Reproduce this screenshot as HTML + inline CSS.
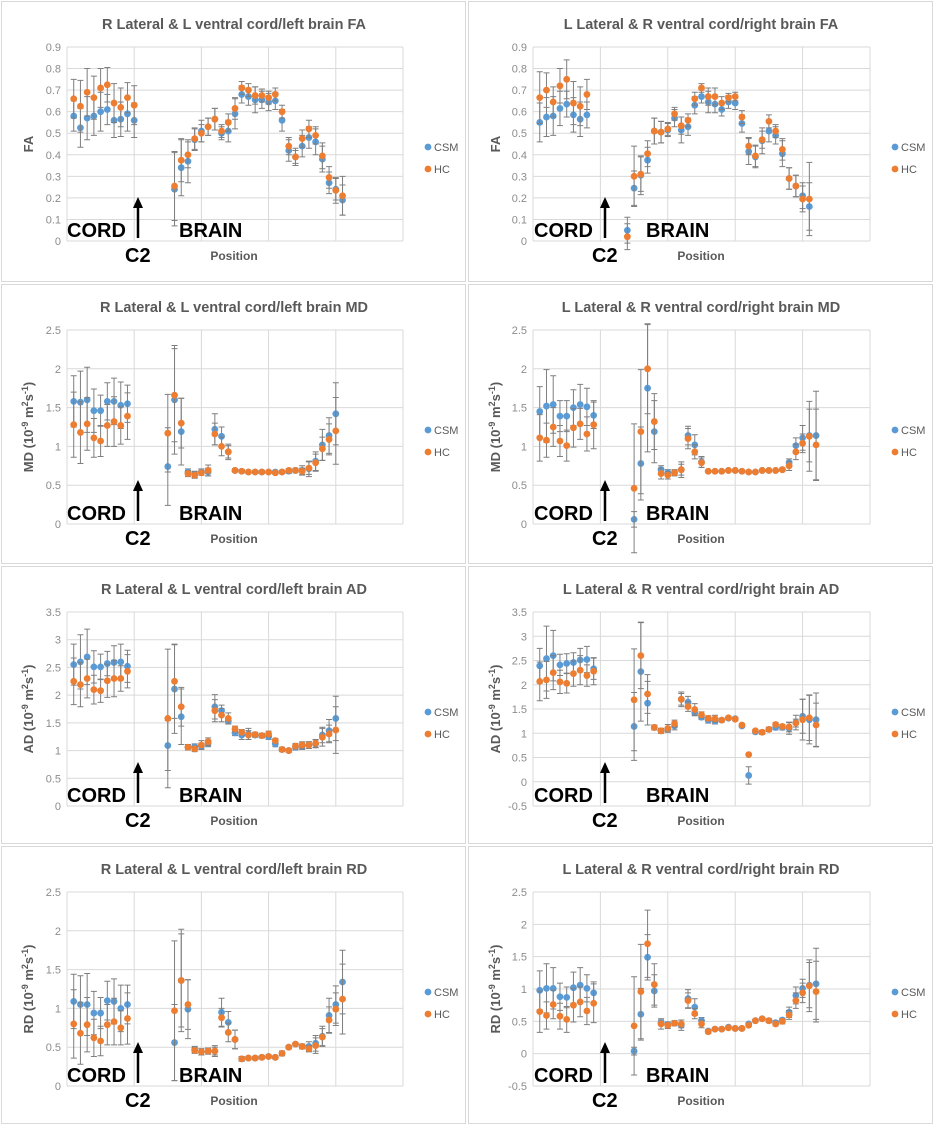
<!DOCTYPE html>
<html><head><meta charset="utf-8"><style>
html,body{margin:0;padding:0;background:#fff;}
svg{display:block;font-family:"Liberation Sans",sans-serif;}
</style></head><body>
<svg id="fig" width="934" height="1125" viewBox="0 0 934 1125"></svg>
<script>
// ---- Data (one set of arrays per panel) ----
const titles = ["R Lateral & L ventral  cord/left brain  FA","L Lateral & R ventral  cord/right brain FA","R Lateral & L ventral  cord/left brain  MD","L Lateral & R ventral cord/right brain MD","R Lateral & L ventral  cord/left brain  AD","L Lateral & R ventral  cord/right brain AD","R Lateral & L ventral  cord/left brain RD","L Lateral & R ventral  cord/right brain RD"];
const yLabels = ["FA","FA","MD","MD","AD","AD","RD","RD"];
const yMins = [0,0,0,0,0,-0.5,0,-0.5];
const yMaxs = [0.9,0.9,2.5,2.5,3.5,3.5,2.5,2.5];
const ySteps = [0.1,0.1,0.5,0.5,0.5,0.5,0.5,0.5];
const brainStarts = [16,14,15,15,15,15,16,15];
const legendSeries = ["CSM","HC"];

const cordCSM = [
 [.58,.525,.57,.58,.60,.61,.56,.565,.59,.56],
 [.55,.575,.58,.615,.635,.585,.565,.585],
 [1.58,1.57,1.60,1.46,1.46,1.58,1.58,1.53,1.55],
 [1.45,1.52,1.54,1.39,1.39,1.50,1.54,1.51,1.40],
 [2.55,2.60,2.69,2.51,2.51,2.57,2.59,2.60,2.52],
 [2.39,2.54,2.60,2.41,2.44,2.46,2.51,2.52,2.33],
 [1.09,1.05,1.05,0.94,0.94,1.10,1.09,1.00,1.05],
 [.98,1.01,1.01,.88,.87,1.02,1.06,1.01,.94]];
const cordHC = [
 [.66,.625,.69,.665,.71,.725,.64,.62,.665,.63],
 [.665,.70,.645,.72,.75,.64,.625,.68],
 [1.28,1.18,1.29,1.11,1.07,1.27,1.32,1.27,1.39],
 [1.11,1.08,1.25,1.07,1.01,1.24,1.29,1.16,1.28],
 [2.25,2.19,2.30,2.10,2.08,2.26,2.30,2.30,2.43],
 [2.07,2.10,2.25,2.06,2.03,2.23,2.30,2.19,2.28],
 [0.80,0.68,0.79,0.62,0.58,0.79,0.83,0.75,0.87],
 [.65,.59,.76,.58,.53,.75,.80,.66,.78]];
const cordErrCSM = [
 [.07,.09,.1,.09,.09,.07,.08,.08,.08,.08],
 [.09,.09,.09,.08,.06,.08,.08,.06],
 [.33,.4,.42,.28,.2,.24,.3,.3,.24],
 [.32,.47,.37,.2,.2,.23,.26,.24,.17],
 [.37,.49,.5,.29,.23,.22,.3,.32,.29],
 [.36,.67,.52,.22,.2,.2,.24,.27,.22],
 [.35,.37,.4,.28,.2,.25,.29,.3,.25],
 [.3,.38,.32,.21,.16,.24,.27,.21,.17]];
const cordErrHC = [
 [.09,.12,.11,.1,.09,.08,.09,.09,.07,.09],
 [.12,.08,.07,.08,.09,.1,.09,.07],
 [.42,.4,.34,.25,.2,.27,.32,.24,.3],
 [.3,.22,.25,.2,.2,.25,.2,.22,.31],
 [.42,.4,.35,.26,.21,.3,.33,.23,.3],
 [.4,.38,.35,.24,.2,.26,.3,.22,.28],
 [.44,.4,.35,.24,.19,.26,.3,.22,.33],
 [.32,.21,.22,.2,.2,.26,.23,.21,.3]];

const brainCSM = [
 [.24,.34,.37,.47,.51,.53,.565,.50,.51,.59,.68,.67,.655,.655,.645,.65,.56,.42,.39,.44,.48,.46,.38,.27,.24,.19],
 [.05,.245,.305,.375,.51,.505,.515,.57,.515,.53,.63,.67,.645,.635,.61,.645,.64,.545,.415,.39,.465,.51,.49,.405,.29,.255,.21,.16],
 [.74,1.60,1.19,.67,.64,.67,.67,1.22,1.13,.93,.69,.68,.67,.67,.67,.67,.67,.67,.68,.69,.69,.71,.81,1.02,1.14,1.42],
 [.06,.78,1.75,1.19,.70,.66,.66,.70,1.14,1.02,.80,.68,.68,.68,.69,.69,.68,.67,.67,.69,.69,.69,.70,.79,1.01,1.11,1.14,1.14],
 [1.09,2.11,1.61,1.06,1.07,1.08,1.13,1.79,1.72,1.53,1.32,1.28,1.30,1.28,1.27,1.25,1.12,1.02,1.00,1.06,1.08,1.10,1.12,1.28,1.36,1.58],
 [1.14,2.27,1.62,1.12,1.05,1.08,1.15,1.70,1.64,1.42,1.33,1.27,1.25,1.27,1.31,1.30,1.15,0.13,1.03,1.02,1.08,1.12,1.12,1.10,1.22,1.35,1.28,1.28],
 [.56,1.36,.99,.47,.44,.45,.45,.95,.82,.60,.35,.36,.36,.37,.38,.37,.42,.50,.54,.51,.51,.55,.64,.91,1.05,1.34],
 [.04,.61,1.49,.97,.48,.45,.47,.44,.85,.72,.51,.35,.38,.38,.41,.39,.39,.46,.51,.54,.51,.48,.52,.64,.90,1.01,1.06,1.08]];
const brainHC = [
 [.255,.375,.40,.475,.50,.53,.565,.51,.55,.615,.71,.70,.675,.675,.665,.68,.60,.44,.39,.475,.52,.49,.395,.295,.235,.21],
 [.02,.30,.31,.405,.51,.505,.52,.59,.535,.56,.66,.71,.67,.67,.64,.665,.67,.575,.44,.395,.47,.555,.51,.425,.29,.255,.195,.195],
 [1.17,1.66,1.30,.65,.63,.66,.69,1.16,1.00,.93,.69,.68,.67,.67,.67,.67,.66,.67,.69,.69,.68,.72,.79,.97,1.09,1.20],
 [.46,1.19,2.0,1.32,.65,.63,.66,.70,1.10,.93,.79,.68,.68,.68,.69,.69,.68,.67,.67,.69,.69,.69,.70,.75,.93,1.04,1.13,1.02],
 [1.58,2.25,1.79,1.06,1.03,1.10,1.16,1.72,1.64,1.58,1.39,1.33,1.28,1.29,1.27,1.30,1.18,1.02,1.00,1.08,1.10,1.10,1.13,1.24,1.30,1.37],
 [1.69,2.60,1.81,1.12,1.05,1.10,1.20,1.70,1.55,1.49,1.38,1.31,1.30,1.27,1.32,1.29,1.17,0.56,1.05,1.02,1.08,1.18,1.14,1.13,1.21,1.28,1.32,1.17],
 [.97,1.36,1.05,.46,.44,.45,.45,.88,.69,.60,.35,.36,.36,.37,.38,.37,.42,.50,.54,.51,.48,.52,.63,.85,.99,1.12],
 [.43,.96,1.70,1.07,.46,.44,.47,.46,.82,.62,.46,.34,.38,.38,.40,.39,.39,.44,.51,.54,.51,.46,.50,.60,.82,.94,1.05,.96]];
const brainErrCSM = [
 [.17,.13,.1,.05,.05,.04,.05,.03,.05,.07,.04,.04,.06,.04,.04,.04,.05,.05,.04,.05,.05,.06,.06,.05,.05,.07],
 [.06,.08,.09,.06,.06,.05,.03,.04,.06,.04,.04,.03,.05,.04,.03,.03,.03,.04,.06,.05,.06,.05,.04,.06,.05,.05,.06,.11],
 [.5,.7,.43,.04,.04,.04,.05,.2,.12,.1,.02,.02,.02,.02,.02,.02,.02,.02,.03,.03,.06,.1,.12,.2,.23,.4],
 [.1,.47,.82,.4,.05,.04,.03,.1,.12,.13,.07,.01,.01,.01,.01,.01,.01,.01,.01,.01,.01,.01,.02,.05,.1,.16,.34,.57],
 [.45,.8,.5,.05,.05,.05,.06,.22,.1,.05,.05,.08,.1,.04,.04,.05,.05,.04,.03,.05,.06,.06,.07,.14,.2,.4],
 [.7,1.02,.45,.05,.05,.05,.08,.12,.12,.06,.05,.06,.06,.03,.03,.03,.03,.18,.04,.04,.04,.05,.05,.12,.15,.35,.5,.55],
 [.49,.6,.38,.04,.04,.04,.05,.18,.14,.12,.03,.02,.02,.02,.02,.02,.03,.02,.02,.03,.06,.1,.13,.22,.24,.41],
 [.06,.4,.35,.25,.04,.04,.03,.08,.14,.13,.05,.02,.02,.02,.02,.02,.02,.02,.02,.02,.03,.03,.03,.08,.13,.14,.35,.55]];
const brainErrHC = [
 [.16,.1,.06,.05,.04,.04,.05,.03,.04,.05,.03,.03,.04,.03,.03,.03,.03,.04,.03,.04,.04,.04,.06,.05,.06,.09],
 [.06,.14,.08,.06,.06,.05,.03,.03,.04,.03,.03,.02,.04,.04,.03,.02,.02,.03,.04,.05,.04,.03,.03,.05,.05,.05,.06,.17],
 [.5,.6,.32,.04,.04,.03,.07,.14,.12,.08,.02,.02,.02,.02,.02,.02,.02,.02,.02,.02,.04,.08,.11,.15,.2,.43],
 [.83,.8,.58,.36,.07,.05,.04,.07,.13,.09,.06,.01,.01,.01,.01,.01,.01,.01,.01,.01,.01,.01,.02,.06,.1,.12,.45,.46],
 [1.25,.67,.35,.05,.05,.08,.07,.2,.12,.1,.05,.05,.08,.04,.04,.05,.04,.03,.03,.05,.06,.06,.07,.16,.16,.42],
 [1.05,.68,.4,.05,.05,.08,.07,.15,.1,.12,.06,.05,.07,.04,.03,.03,.03,.02,.03,.04,.04,.04,.04,.1,.08,.42,.47,.45],
 [.9,.66,.32,.04,.04,.04,.07,.12,.12,.12,.03,.02,.02,.02,.02,.02,.03,.02,.02,.03,.04,.1,.11,.17,.21,.45],
 [.76,.73,.52,.32,.08,.05,.04,.06,.12,.08,.06,.03,.02,.02,.02,.02,.02,.02,.02,.02,.03,.03,.04,.07,.12,.15,.4,.47]];

// ---- Rendering ----
const NS = "http://www.w3.org/2000/svg";
const svg = document.getElementById("fig");
const rowTops = [0,283,565,845];
const rowHeights = [283,282,280,280];
const colors = {CSM:"#5b9bd5", HC:"#ed7d31"};
function mk(tag, attrs, parent){
  const e = document.createElementNS(NS, tag);
  for (const k in attrs) e.setAttribute(k, attrs[k]);
  (parent||svg).appendChild(e);
  return e;
}
for (let p = 0; p < 8; p++) {
  const col = p % 2, row = Math.floor(p / 2);
  const ox = col * 467, oy = rowTops[row];
  const g = mk("g", {transform:"translate(" + ox + "," + oy + ")"});
  
  
  const frame = mk("rect", {x:1.5, y:1.5, width:464, height:rowHeights[row]-3, fill:"#fff", stroke:"#d9d9d9", "stroke-width":1}, g);
  
  
  const L = col ? 66 : 67, R = 403, T = 47, B = 241;
  const yMin = yMins[p], yMax = yMaxs[p];
  const xS = v => L + v * (R - L) / 50;
  const yS = v => B - (v - yMin) * (B - T) / (yMax - yMin);
  const nT = Math.round((yMax - yMin) / ySteps[p]);
  for (let i = 0; i <= nT; i++) {
    const v = yMin + i * ySteps[p];
    const gl = mk("line", {x1:L, x2:R, y1:yS(v), y2:yS(v), stroke:"#d9d9d9", "stroke-width":1}, g);
    
    
    const tl = mk("text", {x:L-6, y:yS(v)+4, "text-anchor":"end", "font-size":11, fill:"#8c8c8c"}, g);
    
    
    tl.textContent = String(Math.round(v * 10) / 10);
  }
  for (let i = 0; i <= 5; i++) {
    const vl = mk("line", {x1:xS(i*10), x2:xS(i*10), y1:T, y2:B, stroke:"#d9d9d9", "stroke-width":1}, g);
    
    
  }
  const tt = mk("text", {x:234, y:29, "text-anchor":"middle", "font-size":14.5, "font-weight":"bold", fill:"#595959", "xml:space":"preserve"}, g);
  
  
  tt.textContent = titles[p];
  const yl = mk("text", {transform:"translate(33," + ((T+B)/2) + ") rotate(-90)", "text-anchor":"middle", "font-size":13, "font-weight":"bold", fill:"#595959"}, g);
  
  
  if (yLabels[p] === "FA") yl.textContent = "FA";
  else {
    yl.appendChild(document.createTextNode(yLabels[p] + " (10"));
    const s1 = mk("tspan", {"font-size":9, dy:-5}, yl); s1.textContent = "-9";
    const s2 = mk("tspan", {dy:5}, yl); s2.textContent = " m";
    const s3 = mk("tspan", {"font-size":9, dy:-5}, yl); s3.textContent = "2";
    const s4 = mk("tspan", {dy:5}, yl); s4.textContent = "s";
    const s5 = mk("tspan", {"font-size":9, dy:-5}, yl); s5.textContent = "-1";
    const s6 = mk("tspan", {dy:5}, yl); s6.textContent = ")";
  }
  const xl = mk("text", {x:234, y:260, "text-anchor":"middle", "font-size":12, "font-weight":"bold", fill:"#595959"}, g);
  
  
  xl.textContent = "Position";
  const cord = mk("text", {x:67, y:237, "font-size":20, "font-weight":"bold", fill:"#000"}, g);
  
  
  cord.textContent = "CORD";
  const brain = mk("text", {x:179, y:237, "font-size":20, "font-weight":"bold", fill:"#000"}, g);
  
  
  brain.textContent = "BRAIN";
  const c2 = mk("text", {x:125, y:262, "font-size":20, "font-weight":"bold", fill:"#000"}, g);
  
  
  c2.textContent = "C2";
  const ar = mk("line", {x1:138, x2:138, y1:238, y2:206, stroke:"#000", "stroke-width":2.5}, g);
  
  
  const ah = mk("polygon", {points:"133,208 143,208 138,197", fill:"#000"}, g);
  
  
  const series = [
    {name:"CSM", cord:cordCSM[p], cordErr:cordErrCSM[p], brain:brainCSM[p], brainErr:brainErrCSM[p]},
    {name:"HC", cord:cordHC[p], cordErr:cordErrHC[p], brain:brainHC[p], brainErr:brainErrHC[p]}];
  series.forEach(s => {
    const pts = [];
    s.cord.forEach((v, i) => pts.push([1 + i, v, s.cordErr[i] || 0.03]));
    s.brain.forEach((v, i) => pts.push([brainStarts[p] + i, v, s.brainErr[i] || 0.03]));
    pts.forEach(pt => {
      const x = xS(pt[0]);
      const y1 = yS(pt[1] + pt[2]), y2 = yS(pt[1] - pt[2]);
      const eb = mk("path", {d:"M"+x+","+y1+"V"+y2+"M"+(x-3)+","+y1+"H"+(x+3)+"M"+(x-3)+","+y2+"H"+(x+3), stroke:"#7f7f7f", "stroke-width":1, fill:"none"}, g);
      
      
    });
    pts.forEach(pt => {
      const c = mk("circle", {cx:xS(pt[0]), cy:yS(pt[1]), r:3.4, fill:colors[s.name]}, g);
      
      
    });
  });
  legendSeries.forEach((nm, i) => {
    const ly = 147 + i * 22;
    const lm = mk("circle", {cx:428, cy:ly, r:3.4, fill:colors[nm]}, g);
    
    
    const lt = mk("text", {x:434, y:ly+4, "font-size":11, fill:"#595959"}, g);
    
    
    lt.textContent = nm;
  });
}
</script>
</body></html>
